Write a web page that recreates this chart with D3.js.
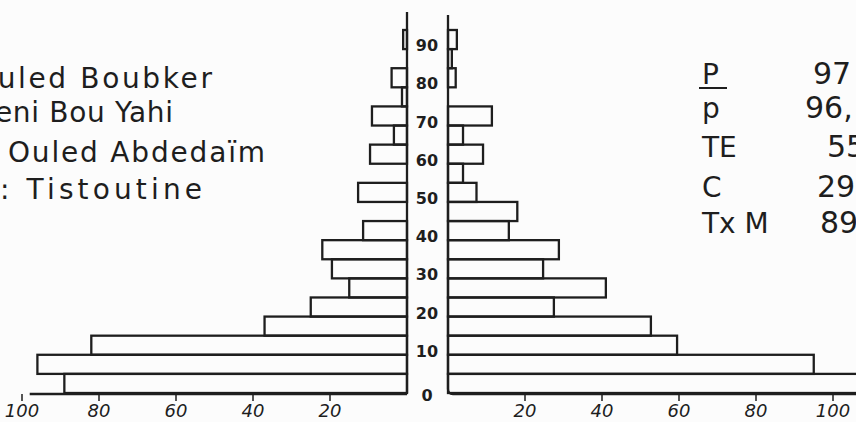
<!DOCTYPE html>
<html>
<head>
<meta charset="utf-8">
<script src="https://cdn.jsdelivr.net/npm/d3@7"></script>
<style>
  body { margin: 0; background: #fcfcfc; }
  svg { display: block; }
  text { font-family: "DejaVu Sans", sans-serif; fill: #1e1e1e; }
</style>
</head>
<body>
<div id="pyramid"></div>
<script>
var width = 856,
    height = 422;

// age groups (lower bound of each 5-year group)
var ages = [0, 5, 10, 15, 20, 25, 30, 35, 40, 45, 50, 55, 60, 65, 70, 75, 80, 85, 90];
// left half of the pyramid
var leftValues = [89, 96, 82, 37, 25, 15, 19.5, 22, 11.4, 0, 12.7, 0, 9.6, 3.4, 9.1, 1.3, 4, 0, 1];
// right half of the pyramid
var rightValues = [110, 95, 59.5, 52.7, 27.5, 41, 24.7, 28.8, 15.8, 18, 7.4, 3.9, 9.1, 3.9, 11.4, 0, 2, 1, 2.3];

var ageTicks = [0, 10, 20, 30, 40, 50, 60, 70, 80, 90];
var valueTicks = [20, 40, 60, 80, 100];

var places = ["Ouled Boubker", "Beni Bou Yahi", "Ouled Abdedaïm", ": Tistoutine"];
var statLabels = ["P", "p", "TE", "C", "Tx M"];
var statValues = ["97", "96,", "55", "29", "89"];

var svg = d3.select("#pyramid")
    .append("svg")
    .attr("width", width)
    .attr("height", height);

var xLeft = d3.scaleLinear().domain([0, 100]).range([407, 22]);
var xRight = d3.scaleLinear().domain([0, 100]).range([448, 833]);
var y = d3.scaleLinear().domain([0, 95]).range([393, 30]);

var ink = "#1e1e1e";

// bars, left side
svg.append("g")
    .selectAll("rect")
    .data(ages)
    .enter()
    .append("rect")
    .attr("x", function (d, i) { return xLeft(leftValues[i]); })
    .attr("y", function (d) { return y(d + 5); })
    .attr("width", function (d, i) { return xLeft(0) - xLeft(leftValues[i]); })
    .attr("height", function (d) { return y(d) - y(d + 5); })
    .attr("fill", "none")
    .attr("stroke", ink)
    .attr("stroke-width", 2.3);

// bars, right side
svg.append("g")
    .selectAll("rect")
    .data(ages)
    .enter()
    .append("rect")
    .attr("x", xRight(0))
    .attr("y", function (d) { return y(d + 5); })
    .attr("width", function (d, i) { return xRight(rightValues[i]) - xRight(0); })
    .attr("height", function (d) { return y(d) - y(d + 5); })
    .attr("fill", "none")
    .attr("stroke", ink)
    .attr("stroke-width", 2.3);

// axes lines
var axes = svg.append("g")
    .attr("stroke", ink)
    .attr("stroke-width", 2.3)
    .attr("fill", "none");

axes.append("line")
    .attr("x1", xLeft(0)).attr("x2", xLeft(0))
    .attr("y1", 12).attr("y2", y(0));
axes.append("line")
    .attr("x1", xLeft(98)).attr("x2", xLeft(0))
    .attr("y1", y(0) + 1).attr("y2", y(0) + 1);
axes.append("path")
    .attr("d", "M" + xRight(0) + ",15 V" + (y(0) - 4) +
        " Q" + xRight(0) + "," + (y(0) + 1) + " " + (xRight(0) + 5) + "," + (y(0) + 1) +
        " H" + xRight(110));

// value ticks under the baseline
svg.append("g")
    .selectAll("line")
    .data(valueTicks.map(function (v) { return xLeft(v); }).concat(valueTicks.map(function (v) { return xRight(v); })))
    .enter()
    .append("line")
    .attr("x1", function (d) { return d; })
    .attr("x2", function (d) { return d; })
    .attr("y1", y(0) + 1)
    .attr("y2", y(0) + 8)
    .attr("stroke", ink)
    .attr("stroke-width", 1.5);

svg.append("g")
    .selectAll("text")
    .data(valueTicks)
    .enter()
    .append("text")
    .attr("x", function (d) { return xLeft(d); })
    .attr("y", 417)
    .attr("text-anchor", "middle")
    .style("font-size", "18px")
    .style("font-style", "italic")
    .text(function (d) { return d; });

svg.append("g")
    .selectAll("text")
    .data(valueTicks)
    .enter()
    .append("text")
    .attr("x", function (d) { return xRight(d); })
    .attr("y", 417)
    .attr("text-anchor", "middle")
    .style("font-size", "18px")
    .style("font-style", "italic")
    .text(function (d) { return d; });

// age labels between the two halves
svg.append("g")
    .selectAll("text")
    .data(ageTicks)
    .enter()
    .append("text")
    .attr("x", 427)
    .attr("y", function (d) { return d === 0 ? y(0) + 8 : y(d) + 2; })
    .attr("text-anchor", "middle")
    .style("font-size", "16px")
    .style("font-weight", "bold")
    .text(function (d) { return d; });

// place names (cut by the left edge, as in the scan)
var placeX = [-27, -25, 8, 0];
var placeLen = [239, 198, 257, 202];
var placeY = [88, 122, 162, 199];
svg.append("g")
    .selectAll("text")
    .data(places)
    .enter()
    .append("text")
    .attr("x", function (d, i) { return placeX[i]; })
    .attr("y", function (d, i) { return placeY[i]; })
    .attr("textLength", function (d, i) { return placeLen[i]; })
    .attr("lengthAdjust", "spacing")
    .style("font-size", "28px")
    .text(function (d) { return d; });

// figures on the right (cut by the right edge)
var statY = [84, 118, 157, 197, 233];
var statX = [813, 805, 827, 817, 820];
var stats = svg.append("g");
stats.selectAll("text.lab")
    .data(statLabels)
    .enter()
    .append("text")
    .attr("class", "lab")
    .attr("x", 702)
    .attr("y", function (d, i) { return statY[i]; })
    .style("font-size", "28px")
    .text(function (d) { return d; });
stats.append("line")
    .attr("x1", 699).attr("x2", 727)
    .attr("y1", 88).attr("y2", 88)
    .attr("stroke", ink)
    .attr("stroke-width", 2);
stats.selectAll("text.val")
    .data(statValues)
    .enter()
    .append("text")
    .attr("class", "val")
    .attr("x", function (d, i) { return statX[i]; })
    .attr("y", function (d, i) { return statY[i]; })
    .style("font-size", "30px")
    .text(function (d) { return d; });
</script>
</body>
</html>
